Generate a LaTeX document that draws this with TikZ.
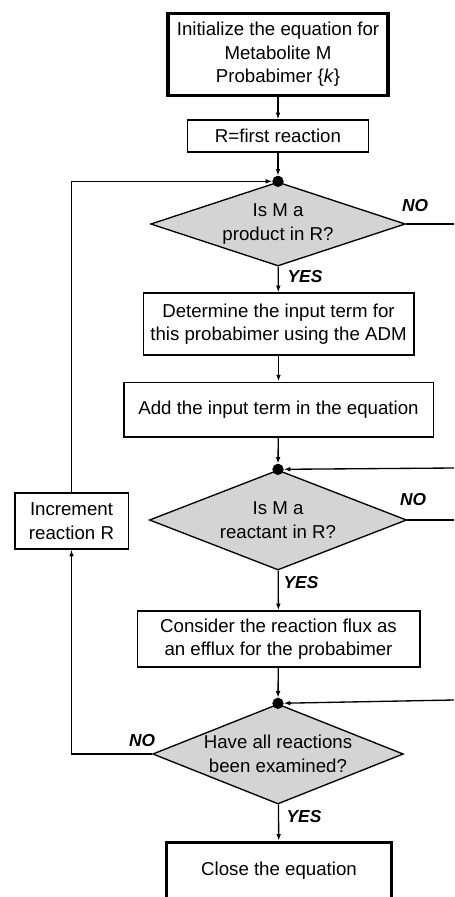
\documentclass[tikz,border=0pt]{standalone}
\usepackage{fontspec}
\setmainfont{Liberation Sans}
\usetikzlibrary{shapes.geometric,arrows.meta}

\begin{document}
\begin{tikzpicture}[x=0.75pt,y=-0.75pt,
    every node/.style={font=\fontsize{14}{17.6}\selectfont},
    box/.style={shape=rectangle,draw=black,line width=1pt,align=center,inner sep=0pt},
    thickbox/.style={box,line width=2.4pt},
    decision/.style={shape=diamond,draw=black,line width=1pt,fill=black!17,align=center,
        inner sep=0pt,aspect=2.7},
    dot/.style={shape=circle,draw=black,fill=black,inner sep=0pt,minimum size=8pt},
    answer/.style={font=\fontsize{13}{15}\selectfont\bfseries\itshape,inner sep=0pt},
    flow/.style={line width=1pt,-{Latex[length=5pt,width=3.5pt]}},
    wire/.style={line width=1pt}]
    \useasboundingbox (0,0) rectangle (454,897);
    \clip (0,0) rectangle (454,897);
    % boxes
    \node[thickbox,minimum width=165pt,minimum height=62pt] (init) at (278,54.5)
        {Initialize the equation for\\Metabolite M\\Probabimer \{\textit{k}\}};
    \node[box,minimum width=136pt,minimum height=24pt] (first) at (278,136) {R=first reaction};
    \node[decision,minimum width=191pt,minimum height=63pt] (isprod) at (278,224) {Is M a\\product in R?};
    \node[dot] (join1) at (isprod.north) {};
    \node[box,minimum width=203pt,minimum height=46.5pt] (input) at (278.5,324)
        {Determine the input term for\\this probabimer using the ADM};
    \node[box,minimum width=232pt,minimum height=41pt] (add) at (278.5,409.5)
        {Add the input term in the equation};
    \node[decision,minimum width=193pt,minimum height=75pt] (isreac) at (278,520) {Is M a\\reactant in R?};
    \node[dot] (join2) at (isreac.north) {};
    \node[box,minimum width=212pt,minimum height=42pt] (efflux) at (278.5,639)
        {Consider the reaction flux as\\an efflux for the probabimer};
    \node[decision,minimum width=188pt,minimum height=75pt] (alldone) at (278,754)
        {Have all reactions\\been examined?};
    \node[dot] (join3) at (alldone.north) {};
    \node[thickbox,minimum width=169pt,minimum height=43pt] (close) at (279,871) {Close the equation};
    \node[box,minimum width=85pt,minimum height=42pt] (incr) at (71.5,521) {Increment\\reaction R};
    % yes / no
    \node[answer] (no1) at (415,206) {NO};
    \node[answer] (yes1) at (305,277) {YES};
    \node[answer] (no2) at (413,500) {NO};
    \node[answer] (yes2) at (301,583) {YES};
    \node[answer] (no3) at (142,741) {NO};
    \node[answer] (yes3) at (304,817) {YES};
    % loose ends on the right
    \coordinate (out1) at (454,224);
    \coordinate (in2) at (454,468);
    \coordinate (out2) at (454,520);
    \coordinate (in3) at (454,700);
    % connectors
    \path [flow] (init) edge (first);
    \path [flow] (first) edge (join1);
    \path [flow] (isprod) edge (input);
    \path [flow] (input) edge (add);
    \path [flow] (add) edge (join2);
    \path [flow] (isreac) edge (efflux);
    \path [flow] (efflux) edge (join3);
    \path [flow] (alldone) edge (close);
    \draw [flow] (alldone.west) -| (incr.south);
    \draw [flow] (incr.north) |- (join1);
    \draw [wire] (isprod.east) -- (out1);
    \draw [flow] (in2) -- (join2);
    \draw [wire] (isreac.east) -- (out2);
    \draw [flow] (in3) -- (join3);
\end{tikzpicture}
\end{document}
